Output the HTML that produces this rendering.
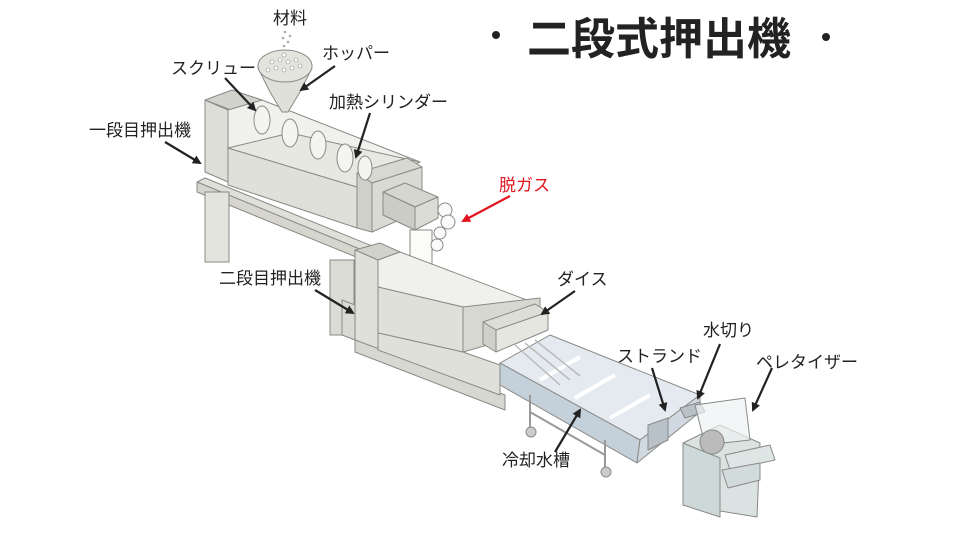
<!DOCTYPE html>
<html><head><meta charset="utf-8"><style>
html,body{margin:0;padding:0;background:#fff;width:960px;height:540px;overflow:hidden}
svg{display:block}
text{font-family:"Liberation Sans","Noto Sans CJK JP",sans-serif}
</style></head><body>
<svg width="960" height="540" viewBox="0 0 960 540" xmlns="http://www.w3.org/2000/svg">
<defs>
<marker id="ah" markerWidth="9" markerHeight="9" refX="7" refY="4.5" orient="auto" markerUnits="userSpaceOnUse"><path d="M0,0 L9,4.5 L0,9z" fill="#222"/></marker>
<marker id="ahr" markerWidth="9" markerHeight="9" refX="7" refY="4.5" orient="auto" markerUnits="userSpaceOnUse"><path d="M0,0 L9,4.5 L0,9z" fill="#e0141e"/></marker>
</defs>
<g stroke="#8a8a86" stroke-width="1" stroke-linejoin="round">
<polygon points="197,182 205,178 505,300 498,306" fill="#e0e0da"/>
<polygon points="197,182 498,306 498,315 197,192" fill="#d6d6cf"/>
<rect x="205" y="192" width="24" height="70" fill="#e4e4de"/>
<rect x="330" y="260" width="24" height="75" fill="#dcdcd6"/>
<polygon points="205,100 228,110 228,182 205,172" fill="#deded8"/>
<polygon points="205,100 232,90 262,100 236,112" fill="#d2d2cc"/>
<polygon points="228,110 262,100 420,162 357,187 228,148" fill="#f0f0ec"/>
<polygon points="228,148 357,187 357,228 228,185" fill="#e0e0da"/>
<polygon points="228,148 290,133 420,162 357,187" fill="#e8e8e2"/>
<polygon points="357,173 407,158 422,167 372,183" fill="#d8d8d2"/>
<polygon points="357,173 372,183 372,232 357,228" fill="#d0d0ca"/>
<polygon points="372,183 422,167 422,210 372,232" fill="#dadad4"/>
<g fill="#f4f4f0"><ellipse cx="262" cy="120" rx="8" ry="14"/><ellipse cx="290" cy="133" rx="8" ry="14"/><ellipse cx="318" cy="145" rx="8" ry="14"/><ellipse cx="345" cy="158" rx="8" ry="14"/><ellipse cx="365" cy="168" rx="7" ry="12"/></g>
<polygon points="258,68 312,68 300,92 288,112 282,112 270,92" fill="#e0e0da"/>
<ellipse cx="285" cy="66" rx="27" ry="16" fill="#e4e4de"/>
<g fill="#fff" stroke="#888" stroke-width="0.6"><circle cx="272" cy="62" r="2"/><circle cx="280" cy="60" r="2"/><circle cx="288" cy="62" r="2"/><circle cx="296" cy="60" r="2"/><circle cx="276" cy="68" r="2"/><circle cx="284" cy="70" r="2"/><circle cx="292" cy="68" r="2"/><circle cx="300" cy="66" r="2"/><circle cx="268" cy="70" r="2"/><circle cx="284" cy="55" r="2"/></g>
<g fill="#aaa" stroke="none"><circle cx="285" cy="32" r="1.3"/><circle cx="283" cy="38" r="1.3"/><circle cx="288" cy="42" r="1.3"/><circle cx="284" cy="46" r="1.3"/><circle cx="290" cy="36" r="1.3"/></g>
<polygon points="383,192 405,183 438,197 415,207" fill="#d6d6d0"/>
<polygon points="383,192 415,207 415,230 383,215" fill="#ccccc6"/>
<polygon points="415,207 438,197 438,218 415,230" fill="#dcdcd6"/>
<rect x="410" y="230" width="22" height="36" fill="#fbfbf9"/>
<g fill="#fafafa"><circle cx="445" cy="210" r="7"/><circle cx="448" cy="222" r="7"/><circle cx="440" cy="233" r="6"/><circle cx="437" cy="245" r="6"/></g>
<polygon points="355,255 505,320 505,330 355,265" fill="#e0e0da"/>
<polygon points="342,300 355,305 355,340 342,335" fill="#dadad4"/>
<polygon points="355,250 380,243 400,252 378,260" fill="#d2d2cc"/>
<polygon points="355,250 378,260 378,350 355,340" fill="#e0e0da"/>
<polygon points="378,260 400,252 540,305 463,307 378,287" fill="#f0f0ec"/>
<polygon points="378,287 463,307 463,352 378,333" fill="#e0e0da"/>
<polygon points="463,307 540,298 540,330 463,352" fill="#d8d8d2"/>
<polygon points="355,340 505,395 505,410 355,352" fill="#d8d8d2"/>
<polygon points="378,333 463,352 500,365 500,395 378,350" fill="#e0e0da"/>
<polygon points="483,322 535,304 548,312 496,330" fill="#dedED8"/>
<polygon points="483,322 496,330 496,352 483,344" fill="#d0d0ca"/>
<polygon points="496,330 548,312 548,330 496,352" fill="#e6e6e0"/>
<polygon points="500,363 550,335 700,395 640,440" fill="#e4eaef"/>
<polygon points="500,363 640,440 637,463 500,385" fill="#c4d0da"/>
<polygon points="640,440 700,395 700,412 637,463" fill="#d0d9e2"/>
<g stroke="#fff" stroke-width="4"><line x1="540" y1="380" x2="580" y2="357"/><line x1="575" y1="398" x2="615" y2="375"/><line x1="610" y1="418" x2="650" y2="395"/></g>
<g stroke="#bbb" stroke-width="1.5"><line x1="515" y1="345" x2="560" y2="385"/><line x1="525" y1="343" x2="570" y2="380"/><line x1="535" y1="340" x2="580" y2="376"/></g>
<g fill="none" stroke="#999" stroke-width="2"><line x1="530" y1="395" x2="530" y2="430"/><line x1="605" y1="440" x2="605" y2="470"/><line x1="530" y1="412" x2="605" y2="455"/></g>
<circle cx="531" cy="432" r="5" fill="#ccc"/><circle cx="606" cy="472" r="5" fill="#ccc"/>
<polygon points="648,425 668,418 668,440 648,450" fill="#b8c0c8"/>
<polygon points="680,408 700,402 705,412 685,418" fill="#b8c0c8"/>
<polygon points="683,443 720,425 760,443 757,517 683,505" fill="#dae2e2"/>
<polygon points="683,443 720,458 720,517 683,505" fill="#cdd8d8"/>
<polygon points="695,405 745,398 750,440 705,445" fill="#eef2f2" fill-opacity="0.7"/>
<circle cx="712" cy="442" r="12" fill="#bbb"/>
<polygon points="725,455 770,445 775,460 730,470" fill="#dee5e5"/>
<polygon points="722,470 760,463 760,480 728,488" fill="#d2dbdb"/>
</g>
<g font-size="17" fill="#222">
<text x="290" y="24" text-anchor="middle">材料</text>
<text x="322" y="59">ホッパー</text>
<text x="171" y="74">スクリュー</text>
<text x="329" y="108">加熱シリンダー</text>
<text x="89" y="136">一段目押出機</text>
<text x="499" y="191" fill="#e0141e">脱ガス</text>
<text x="219" y="284">二段目押出機</text>
<text x="557" y="285">ダイス</text>
<text x="703" y="336">水切り</text>
<text x="617" y="362">ストランド</text>
<text x="756" y="368">ペレタイザー</text>
<text x="502" y="466">冷却水槽</text>
</g>
<text x="527" y="54" font-size="44" fill="#222" font-weight="bold">二段式押出機</text>
<circle cx="496" cy="35" r="4" fill="#222"/><circle cx="826" cy="37" r="4" fill="#222"/>
<g stroke="#222" stroke-width="2.2" fill="none" marker-end="url(#ah)">
<line x1="225" y1="78" x2="255" y2="110"/>
<line x1="335" y1="66" x2="301" y2="90"/>
<line x1="370" y1="113" x2="356" y2="157"/>
<line x1="165" y1="142" x2="200" y2="163"/>
<line x1="315" y1="290" x2="353" y2="313"/>
<line x1="575" y1="291" x2="542" y2="314"/>
<line x1="652" y1="368" x2="665" y2="410"/>
<line x1="720" y1="344" x2="698" y2="398"/>
<line x1="772" y1="368" x2="753" y2="410"/>
<line x1="555" y1="452" x2="580" y2="410"/>
</g>
<line x1="510" y1="196" x2="463" y2="221" stroke="#e0141e" stroke-width="2.2" marker-end="url(#ahr)"/>
</svg>
</body></html>
